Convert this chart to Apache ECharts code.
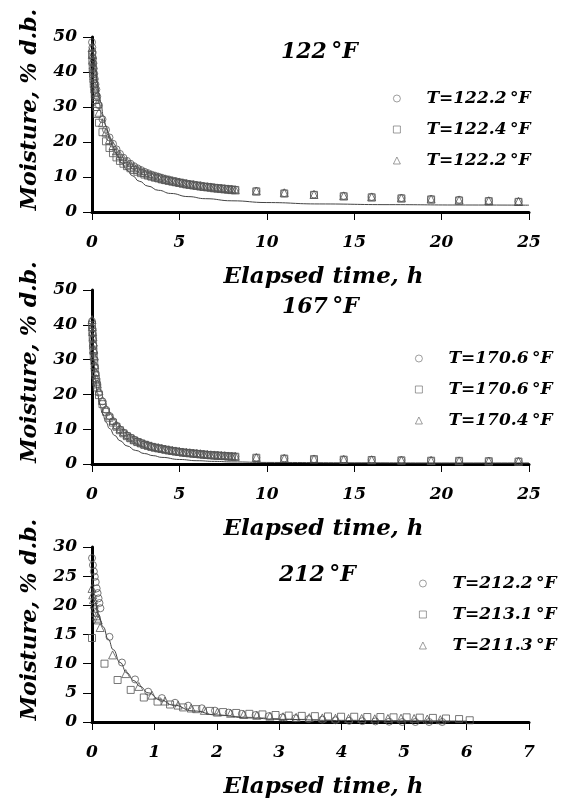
<!DOCTYPE html>
<html>
<head>
<meta charset="utf-8">
<script src="https://cdn.jsdelivr.net/npm/echarts@6/dist/echarts.min.js"></script>
<style>
  html, body { margin: 0; padding: 0; background: #fff; }
  #chart { width: 568px; height: 806px; }
</style>
</head>
<body>
<div id="chart"></div>
<script>
// panel 1 and 2 share the same sampling times (h)
var timeLong = [0, 0.02, 0.04, 0.06, 0.08, 0.1, 0.13, 0.16, 0.2, 0.25, 0.3,
  0.4, 0.6, 0.8, 1.0, 1.2, 1.4, 1.6, 1.8, 2.0, 2.2, 2.4, 2.6, 2.8, 3.0, 3.2, 3.4, 3.6, 3.8, 4.0,
  4.2, 4.4, 4.6, 4.8, 5.0, 5.2, 5.4, 5.6, 5.8, 6.0, 6.2, 6.4, 6.6, 6.8, 7.0, 7.2, 7.4, 7.6, 7.8, 8.0, 8.2,
  9.4, 11.0, 12.7, 14.4, 16.0, 17.7, 19.4, 21.0, 22.7, 24.4];

// 122 F
var m122a = [48.5, 47, 45.5, 44, 42.5, 41, 39.5, 38, 36.5, 35, 33,
  30.5, 26.5, 23.5, 21.3, 19.5, 17.9, 16.6, 15.5, 14.6, 13.8, 13.1, 12.5, 12.0, 11.5, 11.1, 10.7, 10.4, 10.1, 9.8,
  9.5, 9.3, 9.0, 8.8, 8.6, 8.4, 8.2, 8.0, 7.9, 7.7, 7.6, 7.4, 7.3, 7.2, 7.0, 6.9, 6.8, 6.7, 6.6, 6.5, 6.4,
  6.0, 5.4, 5.0, 4.6, 4.3, 4.0, 3.7, 3.5, 3.2, 3.0];
var m122b = [45, 43, 41, 39.5, 38, 36.5, 35, 33.5, 32, 30, 28,
  25.5, 22.8, 20.2, 18.3, 16.8, 15.6, 14.6, 13.8, 13.1, 12.5, 12.0, 11.5, 11.1, 10.7, 10.4, 10.1, 9.8, 9.6, 9.3,
  9.1, 8.9, 8.7, 8.5, 8.3, 8.1, 7.9, 7.8, 7.6, 7.5, 7.3, 7.2, 7.1, 7.0, 6.9, 6.8, 6.7, 6.6, 6.5, 6.4, 6.3,
  5.9, 5.3, 4.9, 4.5, 4.2, 3.9, 3.6, 3.3, 3.1, 2.9];
var m122c = [47, 45, 43.5, 42, 40.5, 39, 37.5, 36, 34.5, 33, 31,
  28.5, 25.5, 22.8, 20.7, 19.0, 17.5, 16.2, 15.2, 14.3, 13.6, 12.9, 12.3, 11.8, 11.3, 10.9, 10.5, 10.2, 9.9, 9.6,
  9.3, 9.1, 8.9, 8.7, 8.5, 8.3, 8.1, 7.9, 7.8, 7.6, 7.5, 7.3, 7.2, 7.1, 6.9, 6.8, 6.7, 6.6, 6.5, 6.4, 6.3,
  6.0, 5.5, 5.0, 4.6, 4.3, 4.0, 3.7, 3.4, 3.2, 3.0];
var fit122T = [0, 0.1, 0.2, 0.3, 0.4, 0.5, 0.65, 0.8, 1.0, 1.2, 1.4, 1.7, 2.0, 2.3, 2.7, 3.2, 3.8, 4.5, 5.5, 6.5, 8, 10, 13, 17, 21, 25];
var fit122M = [49, 44.5, 40.5, 37, 34, 31.3, 27.5, 24.5, 21.3, 18.7, 16.6, 14, 12, 10.4, 8.8, 7.4, 6.2, 5.3, 4.4, 3.8, 3.2, 2.7, 2.3, 2.1, 2.0, 1.95];

// 167 F
var m167a = [41, 39, 37.5, 36, 34, 32, 30, 28, 26, 24.5, 23,
  20.5, 18.0, 15.6, 13.8, 12.3, 11.0, 9.9, 9.0, 8.2, 7.6, 7.0, 6.5, 6.1, 5.7, 5.4, 5.1, 4.8, 4.6, 4.4,
  4.2, 4.0, 3.85, 3.7, 3.55, 3.4, 3.3, 3.2, 3.1, 3.0, 2.9, 2.8, 2.7, 2.6, 2.55, 2.5, 2.4, 2.35, 2.3, 2.2, 2.15,
  1.8, 1.6, 1.4, 1.3, 1.2, 1.1, 1.0, 0.9, 0.85, 0.75];
var m167b = [40, 38, 36, 34, 32.5, 31, 29.5, 27.5, 25.5, 23.5, 22,
  19.8, 17.2, 15.0, 13.3, 11.9, 10.7, 9.7, 8.8, 8.0, 7.4, 6.8, 6.3, 5.9, 5.5, 5.2, 4.9, 4.7, 4.5, 4.3,
  4.1, 3.9, 3.75, 3.6, 3.45, 3.3, 3.2, 3.1, 3.0, 2.9, 2.8, 2.7, 2.6, 2.55, 2.5, 2.4, 2.35, 2.3, 2.2, 2.15, 2.1,
  1.8, 1.55, 1.4, 1.25, 1.15, 1.05, 0.95, 0.9, 0.8, 0.7];
var m167c = [41.5, 39.5, 38, 36.5, 35, 33, 31, 28.5, 26.5, 24.5, 23,
  21.0, 18.3, 15.9, 14.0, 12.5, 11.2, 10.1, 9.2, 8.4, 7.7, 7.1, 6.6, 6.2, 5.8, 5.5, 5.2, 4.9, 4.7, 4.5,
  4.3, 4.1, 3.9, 3.75, 3.6, 3.45, 3.35, 3.25, 3.15, 3.05, 2.95, 2.85, 2.75, 2.65, 2.6, 2.5, 2.45, 2.4, 2.3, 2.25, 2.2,
  1.85, 1.6, 1.45, 1.3, 1.2, 1.1, 1.0, 0.9, 0.85, 0.75];
var fit167T = [0, 0.05, 0.1, 0.2, 0.3, 0.45, 0.6, 0.8, 1.0, 1.3, 1.6, 2.0, 2.5, 3, 3.5, 4, 5, 6, 7, 8, 10, 15, 20, 25];
var fit167M = [41, 35, 30, 24, 20.5, 17, 14.5, 12, 10.2, 8.2, 6.7, 5.2, 3.9, 3.0, 2.4, 1.9, 1.3, 0.95, 0.75, 0.6, 0.45, 0.35, 0.3, 0.3];

// 212 F (each run sampled differently)
var t212a = [0, 0.015, 0.03, 0.045, 0.06, 0.075, 0.09, 0.105, 0.12, 0.135, 0.28, 0.48, 0.69, 0.90, 1.12, 1.33, 1.54, 1.76,
  1.97, 2.19, 2.4, 2.62, 2.83, 3.05, 3.26, 3.47, 3.69, 3.9, 4.12, 4.33, 4.54, 4.76, 4.97, 5.18, 5.4, 5.61];
var m212a = [28.1, 26.9, 25.8, 24.9, 24.0, 22.9, 22.1, 21.2, 20.4, 19.5, 14.6, 10.2, 7.3, 5.2, 4.1, 3.3, 2.8, 2.35,
  1.95, 1.6, 1.4, 1.2, 1.0, 0.8, 0.65, 0.5, 0.4, 0.3, 0.2, 0.15, 0.1, 0.05, 0, 0, 0, 0];
var t212b = [0, 0.2, 0.41, 0.62, 0.83, 1.05, 1.25, 1.46, 1.67, 1.89, 2.1, 2.31, 2.52, 2.73, 2.94, 3.15, 3.36, 3.57,
  3.78, 3.99, 4.2, 4.41, 4.62, 4.83, 5.04, 5.25, 5.46, 5.67, 5.88, 6.05];
var m212b = [14.4, 10.0, 7.2, 5.5, 4.2, 3.5, 3.0, 2.5, 2.2, 1.9, 1.7, 1.55, 1.4, 1.3, 1.2, 1.1, 1.05, 1.0,
  0.95, 0.9, 0.9, 0.85, 0.85, 0.8, 0.8, 0.75, 0.7, 0.6, 0.5, 0.3];
var t212c = [0, 0.012, 0.024, 0.036, 0.048, 0.06, 0.072, 0.084, 0.1, 0.13, 0.33, 0.54, 0.75, 0.96, 1.17, 1.38, 1.59, 1.8,
  2.01, 2.22, 2.43, 2.64, 2.85, 3.06, 3.27, 3.48, 3.69, 3.9, 4.11, 4.32, 4.53, 4.74, 4.95, 5.16, 5.37, 5.58];
var m212c = [22.9, 21.8, 21.0, 20.2, 19.5, 18.8, 18.2, 17.8, 17.5, 16.2, 11.5, 8.3, 6.1, 4.6, 3.6, 2.9, 2.4, 2.0,
  1.7, 1.5, 1.3, 1.15, 1.0, 0.9, 0.8, 0.75, 0.7, 0.65, 0.6, 0.6, 0.55, 0.6, 0.65, 0.6, 0.5, 0.4];
var fit212T = [0, 0.05, 0.1, 0.18, 0.26, 0.34, 0.45, 0.56, 0.67, 0.77, 0.9, 1.09, 1.3, 1.62, 2.0, 2.5, 3, 4, 5, 6];
var fit212M = [23, 20.5, 18.5, 16.3, 14.2, 12.4, 10.2, 8.4, 7.1, 6.1, 5.0, 3.8, 2.9, 1.9, 1.2, 0.7, 0.45, 0.25, 0.2, 0.15];

var panelTitles = ["122\u2009°F", "167\u2009°F", "212\u2009°F"];
var legendLabels = {
  s1a: "T=122.2\u2009°F", s1b: "T=122.4\u2009°F", s1c: "T=122.2\u2009°F",
  s2a: "T=170.6\u2009°F", s2b: "T=170.6\u2009°F", s2c: "T=170.4\u2009°F",
  s3a: "T=212.2\u2009°F", s3b: "T=213.1\u2009°F", s3c: "T=211.3\u2009°F"
};

var FONT = "DejaVu Serif";
var chart = echarts.init(document.getElementById("chart"));

function zip(ts, ms) {
  return ts.map(function (t, i) { return [t, ms[i]]; });
}

var gridTops = [37, 290, 547];
var gridHeights = [175, 174, 175];
var xMax = [25, 25, 7], xStep = [5, 5, 1];
var yMax = [50, 50, 30], yStep = [10, 10, 5];

var boldItalic = { fontFamily: FONT, fontStyle: "italic", fontWeight: "bold", color: "#000" };

function txt(size, extra) {
  return Object.assign({}, boldItalic, { fontSize: size }, extra || {});
}

var grids = [], xAxes = [], yAxes = [], titles = [], legends = [];
for (var i = 0; i < 3; i++) {
  grids.push({ left: 92, top: gridTops[i], width: 437, height: gridHeights[i] });
  xAxes.push({
    gridIndex: i, type: "value", min: 0, max: xMax[i], interval: xStep[i],
    name: "Elapsed time, h", nameLocation: "middle", nameGap: 54,
    nameTextStyle: txt(23, { padding: [0, 0, 0, 26] }),
    axisLine: { lineStyle: { color: "#000", width: 3 } },
    axisTick: { length: 8, lineStyle: { color: "#000", width: 1 } },
    axisLabel: txt(17, { margin: 22 }),
    splitLine: { show: false }
  });
  yAxes.push({
    gridIndex: i, type: "value", min: 0, max: yMax[i], interval: yStep[i],
    name: "Moisture, % d.b.", nameLocation: "middle", nameGap: 51,
    nameTextStyle: txt(22, { padding: [0, 0, 0, 30] }),
    axisLine: { show: true, lineStyle: { color: "#000", width: 3 } },
    axisTick: { show: true, length: 9, lineStyle: { color: "#000", width: 1 } },
    axisLabel: txt(17, { margin: 15 }),
    splitLine: { show: false }
  });
}

titles = [
  { text: panelTitles[0], left: 281, top: 41, padding: 0, textStyle: txt(22) },
  { text: panelTitles[1], left: 282, top: 296, padding: 0, textStyle: txt(22) },
  { text: panelTitles[2], left: 279, top: 564, padding: 0, textStyle: txt(22) }
];

var legendPos = [[393, 90], [415, 350], [419, 575]];
for (var j = 0; j < 3; j++) {
  var p = j + 1;
  legends.push({
    orient: "vertical", left: legendPos[j][0], top: legendPos[j][1], padding: 0,
    itemWidth: 7, itemHeight: 7, itemGap: 14, selectedMode: false,
    data: ["s" + p + "a", "s" + p + "b", "s" + p + "c"],
    formatter: function (name) { return legendLabels[name]; },
    itemStyle: { color: "rgba(0,0,0,0)", borderColor: "#666", borderWidth: 0.8 },
    textStyle: txt(17, { lineHeight: 17, padding: [0, 0, 0, 21] })
  });
}

function dots(name, idx, data, symbol, size) {
  return {
    name: name, type: "scatter", xAxisIndex: idx, yAxisIndex: idx,
    data: data, symbol: symbol, symbolSize: size, clip: false,
    itemStyle: { color: "rgba(0,0,0,0)", borderColor: "#555", borderWidth: 1 }
  };
}

function fit(idx, data) {
  return {
    name: "fit" + idx, type: "line", xAxisIndex: idx, yAxisIndex: idx,
    data: data, showSymbol: false, symbol: "none", smooth: true, smoothMonotone: "x",
    lineStyle: { color: "#444", width: 1 }, z: 3
  };
}

chart.setOption({
  animation: false,
  backgroundColor: "#fff",
  title: titles,
  legend: legends,
  grid: grids,
  xAxis: xAxes,
  yAxis: yAxes,
  series: [
    dots("s1a", 0, zip(timeLong, m122a), "circle", 7),
    dots("s1b", 0, zip(timeLong, m122b), "rect", 7),
    dots("s1c", 0, zip(timeLong, m122c), "triangle", 8),
    fit(0, zip(fit122T, fit122M)),
    dots("s2a", 1, zip(timeLong, m167a), "circle", 7),
    dots("s2b", 1, zip(timeLong, m167b), "rect", 7),
    dots("s2c", 1, zip(timeLong, m167c), "triangle", 8),
    fit(1, zip(fit167T, fit167M)),
    dots("s3a", 2, zip(t212a, m212a), "circle", 7),
    dots("s3b", 2, zip(t212b, m212b), "rect", 7),
    dots("s3c", 2, zip(t212c, m212c), "triangle", 8),
    fit(2, zip(fit212T, fit212M))
  ]
});
</script>
</body>
</html>
